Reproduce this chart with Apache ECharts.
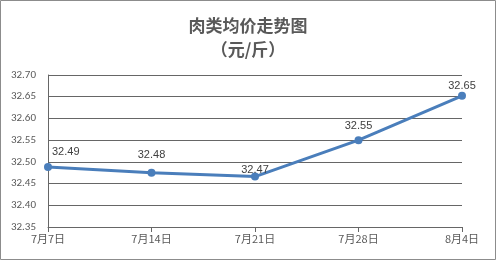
<!DOCTYPE html>
<html><head><meta charset="utf-8">
<script src="https://cdn.jsdelivr.net/npm/echarts@6/dist/echarts.min.js"></script>
<style>html,body{margin:0;padding:0;background:#fff}#c{width:496px;height:260px}</style>
</head><body><div id="c"></div>
<script>
const titleText = '肉类均价走势图\n（元/斤）';
const categories = ['7月7日','7月14日','7月21日','7月28日','8月4日'];
const values = [32.488, 32.475, 32.466, 32.55, 32.652];
const yMin = 32.35, yMax = 32.70, yStep = 0.05;
const labelLift = [null, -8, 3, -5, 0];

const chart = echarts.init(document.getElementById('c'));
const txt = '#595959';
chart.setOption({
  animation: false,
  backgroundColor: '#fff',
  graphic: [{type:'rect', shape:{x:0.5,y:0.5,width:495,height:259}, style:{fill:'none', stroke:'#8c8c8c', lineWidth:1}, z:-1}],
  title: {
    text: titleText, left: 'center', top: 9,
    textStyle: {fontFamily:'Noto Sans CJK SC', fontSize:17, fontWeight:'bold', color:txt, lineHeight:24}
  },
  grid: {left:48, right:34, top:75, bottom:33},
  xAxis: {
    type:'category', data:categories, boundaryGap:false,
    axisLine:{lineStyle:{color:'#666', width:1}},
    axisTick:{show:true, alignWithLabel:true, length:5, lineStyle:{color:'#666'}},
    axisLabel:{color:txt, fontSize:11, fontFamily:'Noto Sans CJK SC', margin:6},
    splitLine:{show:false}
  },
  yAxis: {
    type:'value', min:yMin, max:yMax, interval:yStep,
    axisLine:{show:true, lineStyle:{color:'#666'}},
    axisTick:{show:false},
    axisLabel:{color:txt, fontSize:11, fontFamily:'Calibri, Liberation Sans, sans-serif', margin:12, formatter:v=>v.toFixed(2)},
    splitLine:{lineStyle:{color:'#666', width:1}}
  },
  series: [{
    type:'line',
    data: values.map((v,i)=> i===0
      ? {value:v, label:{position:'right', distance:0, offset:[0,-15]}}
      : {value:v, label:{position:'top', distance:0, offset:[0, labelLift[i]]}}),
    lineStyle:{color:'#4a7ebb', width:3},
    itemStyle:{color:'#4a7ebb'},
    symbol:'circle', symbolSize:8,
    label:{show:true, position:'top', distance:0, color:'#404040', fontSize:11, fontFamily:'Liberation Sans, sans-serif',
      formatter:p=>p.value.toFixed(2)}
  }]
});
</script></body></html>
